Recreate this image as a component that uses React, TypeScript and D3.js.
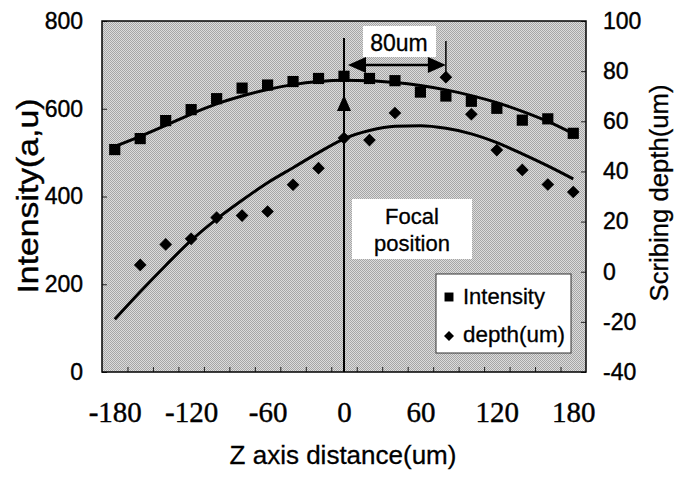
import React, { useEffect, useRef } from "react"
import * as d3 from "d3"

// Z axis distance (um), one category every 20um
const zDistance = [-180, -160, -140, -120, -100, -80, -60, -40, -20, 0, 20, 40, 60, 80, 100, 120, 140, 160, 180]
// measured intensity (a.u.), squares
const intensity = [507, 532, 573, 598, 623, 647, 654, 662, 669, 674, 669, 664, 638, 629, 617, 601, 574, 577, 544]
// measured scribing depth (um), diamonds (no visible point at -180 and 60)
const depth = [null, 2.7, 10.9, 13.1, 21.6, 22.4, 24, 34.7, 41.3, 53.3, 52.5, 63.3, null, 77.6, 62.8, 48.5, 40.6, 34.8, 31.8]
// trend lines
const intensityTrend = [514, 537, 562, 588, 611, 629, 644, 655, 662, 665, 664, 660, 653, 643, 630, 614, 594, 571, 543]
const depthTrend = [-19, -8, 2.5, 12.5, 21, 28.5, 35.5, 41.5, 47.5, 53, 56.3, 58, 58.2, 57.2, 55, 51.5, 47, 42.2, 37]

const xTickLabels = [-180, -120, -60, 0, 60, 120, 180]
const xTickMarks = [-170, -150, -130, -110, -90, -70, -50, -30, -10, 10, 30, 50, 70, 90, 110, 130, 150, 170]
const intensityTicks = [0, 200, 400, 600, 800]
const depthTicks = [-40, -20, 0, 20, 40, 60, 80, 100]

const SANS = "Arial, 'Liberation Sans', sans-serif"
const SERIF = "'Times New Roman', 'Liberation Serif', serif"

export default function App() {
  const ref = useRef<SVGSVGElement>(null)

  useEffect(() => {
    document.body.style.margin = "0"
    const svg = d3.select(ref.current)
    svg.selectAll("*").remove()

    const left = 102, right = 586, top = 21, bottom = 372
    const x = d3.scaleLinear().domain([-190, 190]).range([left, right])
    const yL = d3.scaleLinear().domain([0, 800]).range([bottom, top])
    const yR = d3.scaleLinear().domain([-40, 100]).range([bottom, top])
    const fmt = (d: any) => String(d)

    // dithered grey background like the scan
    const defs = svg.append("defs")
    const pat = defs.append("pattern")
      .attr("id", "dither")
      .attr("width", 2)
      .attr("height", 2)
      .attr("patternUnits", "userSpaceOnUse")
    pat.append("rect").attr("width", 2).attr("height", 2).attr("fill", "#dcdcdc")
    pat.append("rect").attr("width", 1).attr("height", 1).attr("fill", "#a6a6a6")
    pat.append("rect").attr("x", 1).attr("y", 1).attr("width", 1).attr("height", 1).attr("fill", "#a6a6a6")

    svg.append("rect").attr("width", 683).attr("height", 485).attr("fill", "white")
    svg.append("rect")
      .attr("x", left).attr("y", top)
      .attr("width", right - left).attr("height", bottom - top)
      .attr("fill", "url(#dither)")

    // axes
    const gLeft = svg.append("g")
      .attr("transform", `translate(${left},0)`)
      .call(d3.axisLeft(yL).tickValues(intensityTicks).tickSize(-5).tickPadding(19).tickFormat(fmt))
    const gRight = svg.append("g")
      .attr("transform", `translate(${right},0)`)
      .call(d3.axisRight(yR).tickValues(depthTicks).tickSize(-5).tickPadding(17).tickFormat(fmt))
    const gMarks = svg.append("g")
      .attr("transform", `translate(0,${bottom})`)
      .call(d3.axisBottom(x).tickValues(xTickMarks).tickSize(-5).tickFormat(() => ""))
    const gLabels = svg.append("g")
      .attr("transform", `translate(0,${bottom})`)
      .call(d3.axisBottom(x).tickValues(xTickLabels).tickSize(0).tickPadding(29).tickFormat(fmt))

    ;[gLeft, gRight, gMarks, gLabels].forEach(g => {
      g.select(".domain").remove()
      g.selectAll("line").attr("stroke", "#222").attr("stroke-width", 1)
    })
    gLeft.selectAll("text").attr("font-family", SANS).attr("font-size", 23).attr("fill", "#000")
      .attr("stroke", "#000").attr("stroke-width", 0.4)
    gRight.selectAll("text").attr("font-family", SANS).attr("font-size", 23).attr("fill", "#000")
      .attr("stroke", "#000").attr("stroke-width", 0.4)
    gLabels.selectAll("text").attr("font-family", SERIF).attr("font-size", 29).attr("fill", "#000")
      .attr("stroke", "#000").attr("stroke-width", 0.4)

    // trend lines
    const line = d3.line<number>()
      .x((d, i) => x(zDistance[i]))
      .curve(d3.curveMonotoneX)
    svg.append("path")
      .attr("d", line.y(d => yL(d))(intensityTrend))
      .attr("fill", "none").attr("stroke", "#000").attr("stroke-width", 3)
    svg.append("path")
      .attr("d", line.y(d => yR(d))(depthTrend))
      .attr("fill", "none").attr("stroke", "#000").attr("stroke-width", 3)

    // focal position line and annotations
    svg.append("line")
      .attr("x1", x(0)).attr("x2", x(0))
      .attr("y1", 38).attr("y2", bottom)
      .attr("stroke", "#000").attr("stroke-width", 2)
    svg.append("path")
      .attr("d", `M${x(0)},95 L${x(0) + 7},111 L${x(0) - 7},111 Z`)
      .attr("fill", "#000")

    svg.append("rect")
      .attr("x", 363).attr("y", 26).attr("width", 73).attr("height", 31)
      .attr("fill", "white")
    svg.append("text")
      .attr("x", 399).attr("y", 51)
      .attr("text-anchor", "middle")
      .attr("font-family", SANS).attr("font-size", 23)
      .attr("stroke", "#000").attr("stroke-width", 0.3)
      .text("80um")

    const ay = 65
    svg.append("line")
      .attr("x1", x(0) + 15).attr("x2", x(80) - 15)
      .attr("y1", ay).attr("y2", ay)
      .attr("stroke", "#000").attr("stroke-width", 2.5)
    svg.append("path")
      .attr("d", `M${x(0) + 4},${ay} L${x(0) + 22},${ay - 8} L${x(0) + 22},${ay + 8} Z`)
      .attr("fill", "#000")
    svg.append("path")
      .attr("d", `M${x(80)},${ay} L${x(80) - 18},${ay - 8} L${x(80) - 18},${ay + 8} Z`)
      .attr("fill", "#000")
    svg.append("line")
      .attr("x1", x(80)).attr("x2", x(80))
      .attr("y1", 41).attr("y2", 73)
      .attr("stroke", "#000").attr("stroke-width", 1.5)

    svg.append("rect")
      .attr("x", 352).attr("y", 199).attr("width", 120).attr("height", 60)
      .attr("fill", "white")
    svg.append("text")
      .attr("x", 412).attr("y", 224)
      .attr("text-anchor", "middle")
      .attr("font-family", SANS).attr("font-size", 22)
      .attr("stroke", "#000").attr("stroke-width", 0.3)
      .text("Focal")
    svg.append("text")
      .attr("x", 412).attr("y", 251)
      .attr("text-anchor", "middle")
      .attr("font-family", SANS).attr("font-size", 22)
      .attr("stroke", "#000").attr("stroke-width", 0.3)
      .text("position")

    // data points
    const square = d3.symbol().type(d3.symbolSquare).size(125)
    const diamond = d3.symbol().type(d3.symbolSquare).size(80)
    svg.append("g")
      .selectAll("path")
      .data(depth.map((d, i) => [zDistance[i], d]).filter(d => d[1] !== null))
      .enter()
      .append("path")
      .attr("d", diamond)
      .attr("transform", d => `translate(${x(d[0] as number)},${yR(d[1] as number)}) rotate(45)`)
      .attr("fill", "#000")
    svg.append("g")
      .selectAll("path")
      .data(intensity.map((d, i) => [zDistance[i], d]))
      .enter()
      .append("path")
      .attr("d", square)
      .attr("transform", d => `translate(${x(d[0])},${yL(d[1])})`)
      .attr("fill", "#000")

    // plot frame
    svg.append("rect")
      .attr("x", left).attr("y", top)
      .attr("width", right - left).attr("height", bottom - top)
      .attr("fill", "none").attr("stroke", "#000").attr("stroke-width", 1.5)

    // legend
    const lg = svg.append("g").attr("transform", "translate(436,274)")
    lg.append("rect").attr("width", 135).attr("height", 79)
      .attr("fill", "white").attr("stroke", "#333").attr("stroke-width", 1)
    lg.append("path").attr("d", d3.symbol().type(d3.symbolSquare).size(80))
      .attr("transform", "translate(13,23)")
    lg.append("text").attr("x", 27).attr("y", 30)
      .attr("font-family", SANS).attr("font-size", 22)
      .attr("stroke", "#000").attr("stroke-width", 0.3)
      .text("Intensity")
    lg.append("path").attr("d", d3.symbol().type(d3.symbolSquare).size(50))
      .attr("transform", "translate(13,62) rotate(45)")
    lg.append("text").attr("x", 27).attr("y", 68)
      .attr("font-family", SANS).attr("font-size", 22)
      .attr("textLength", 102).attr("lengthAdjust", "spacingAndGlyphs")
      .attr("stroke", "#000").attr("stroke-width", 0.3)
      .text("depth(um)")

    // axis titles
    svg.append("text")
      .attr("transform", "translate(38,196) rotate(-90)")
      .attr("text-anchor", "middle")
      .attr("font-family", SANS).attr("font-size", 30)
      .attr("textLength", 195).attr("lengthAdjust", "spacingAndGlyphs")
      .attr("stroke", "#000").attr("stroke-width", 0.4)
      .text("Intensity(a,u)")
    svg.append("text")
      .attr("transform", "translate(668,193) rotate(-90)")
      .attr("text-anchor", "middle")
      .attr("font-family", SANS).attr("font-size", 25)
      .attr("textLength", 217).attr("lengthAdjust", "spacingAndGlyphs")
      .attr("stroke", "#000").attr("stroke-width", 0.3)
      .text("Scribing depth(um)")
    svg.append("text")
      .attr("x", 343).attr("y", 464)
      .attr("text-anchor", "middle")
      .attr("font-family", SANS).attr("font-size", 26)
      .attr("stroke", "#000").attr("stroke-width", 0.3)
      .text("Z axis distance(um)")
  }, [])

  return <svg ref={ref} width={683} height={485} style={{ display: "block" }} />
}
